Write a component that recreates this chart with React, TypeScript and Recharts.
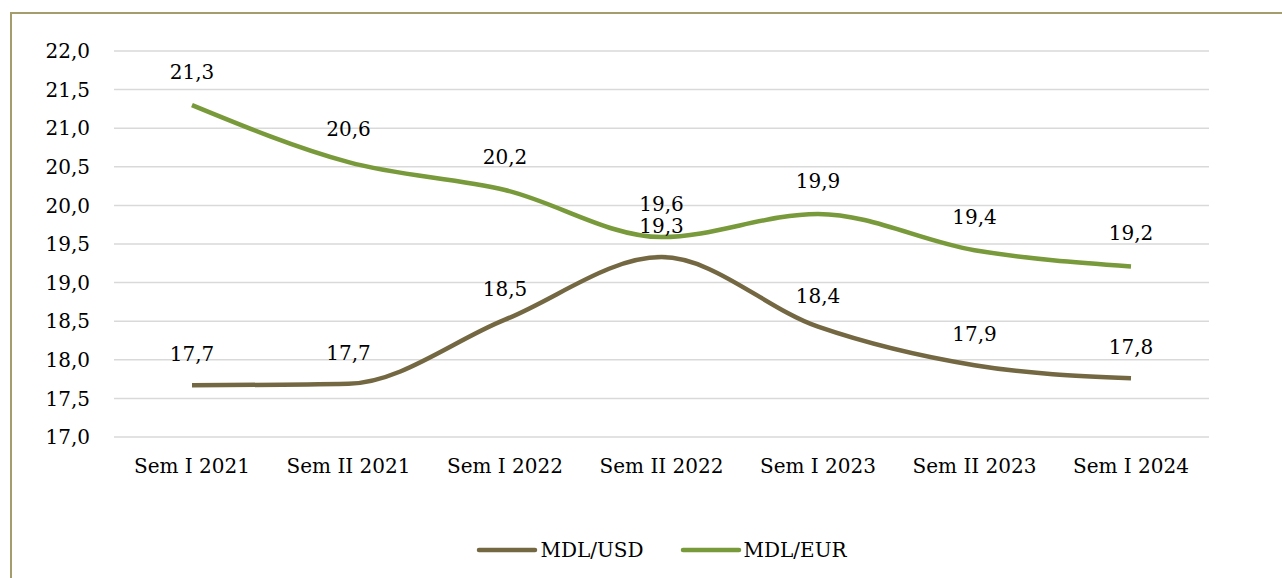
import { LineChart, Line, XAxis, YAxis, CartesianGrid, Legend, LabelList } from 'recharts';

const periods = ['Sem I 2021', 'Sem II 2021', 'Sem I 2022', 'Sem II 2022', 'Sem I 2023', 'Sem II 2023', 'Sem I 2024'];
const mdlUsd = [17.67, 17.69, 18.52, 19.33, 18.43, 17.93, 17.76];
const mdlEur = [21.3, 20.56, 20.2, 19.59, 19.89, 19.42, 19.21];
const yTicks = [17, 17.5, 18, 18.5, 19, 19.5, 20, 20.5, 21, 21.5, 22];

const USD_COLOR = '#736842';
const EUR_COLOR = '#789A3A';
const FONT = '"DejaVu Serif", serif';
const FS = 20;

const data = periods.map((p, i) => ({ period: p, usd: mdlUsd[i], eur: mdlEur[i] }));

const fmt = (v: number) => v.toFixed(1).replace('.', ',');

const legendItems = [
  { name: 'MDL/USD', color: USD_COLOR },
  { name: 'MDL/EUR', color: EUR_COLOR },
];

const renderLegend = () => (
  <div style={{ display: 'flex', justifyContent: 'center', alignItems: 'center', gap: 36, fontFamily: FONT, fontSize: FS, color: '#000', height: 40 }}>
    {legendItems.map((it) => (
      <div key={it.name} style={{ display: 'flex', alignItems: 'center' }}>
        <svg width={62} height={10}>
          <line x1={3} y1={5} x2={59} y2={5} stroke={it.color} strokeWidth={4.5} strokeLinecap="round" />
        </svg>
        <span style={{ marginLeft: 2 }}>{it.name}</span>
      </div>
    ))}
  </div>
);

export default function App() {
  return (
    <div style={{ position: 'absolute', left: 0, top: 0, width: 1282, height: 578, background: '#fff', overflow: 'hidden' }}>
      <div style={{ position: 'absolute', left: 10, top: 12, width: 1290, height: 600, borderTop: '2px solid #A59D6B', borderLeft: '2px solid #A59D6B' }} />
      <LineChart width={1282} height={578} data={data} margin={{ top: 51, right: 73, bottom: 8, left: 0 }}>
        <CartesianGrid vertical={false} stroke="#D9D9D9" strokeWidth={1.5} />
        <XAxis
          dataKey="period"
          axisLine={false}
          tickLine={false}
          tickSize={0}
          tickMargin={22}
          height={93}
          interval={0}
          padding={{ left: 78, right: 78 }}
          tick={{ fontFamily: FONT, fontSize: FS, fill: '#000' }}
        />
        <YAxis
          domain={[17, 22]}
          ticks={yTicks}
          axisLine={false}
          tickLine={false}
          tickSize={0}
          tickMargin={24}
          width={114}
          tickFormatter={fmt}
          tick={{ fontFamily: FONT, fontSize: FS, fill: '#000' }}
        />
        <Legend verticalAlign="bottom" height={40} content={renderLegend} wrapperStyle={{ left: 114, width: 1095 }} />
        <Line type="monotone" dataKey="usd" name="MDL/USD" stroke={USD_COLOR} strokeWidth={4.5} dot={false} isAnimationActive={false}>
          <LabelList dataKey="usd" position="top" offset={24} formatter={fmt} style={{ fontFamily: FONT, fontSize: FS, fill: '#000' }} />
        </Line>
        <Line type="monotone" dataKey="eur" name="MDL/EUR" stroke={EUR_COLOR} strokeWidth={4.5} dot={false} isAnimationActive={false}>
          <LabelList dataKey="eur" position="top" offset={26} formatter={fmt} style={{ fontFamily: FONT, fontSize: FS, fill: '#000' }} />
        </Line>
      </LineChart>
    </div>
  );
}
